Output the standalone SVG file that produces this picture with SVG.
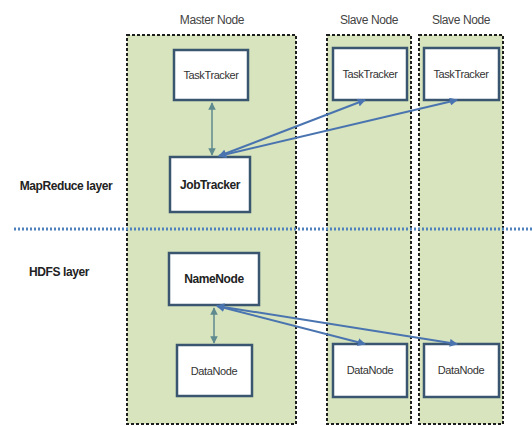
<svg xmlns="http://www.w3.org/2000/svg" width="532" height="426" viewBox="0 0 532 426">
<defs>
<style>
.col{fill:#d7e4bd;stroke:#1e1e1e;stroke-width:2;stroke-dasharray:3 2}
.box{fill:#ffffff;stroke:#3a5570;stroke-width:2.5}
.t{font-family:"Liberation Sans",Arial,sans-serif;font-size:11px;fill:#333;text-anchor:middle;letter-spacing:-0.4px}
.b{font-weight:bold;font-size:12px;fill:#222}
.hd{font-family:"Liberation Sans",Arial,sans-serif;font-size:12px;fill:#444;text-anchor:middle;letter-spacing:-0.4px}
.lay{font-family:"Liberation Sans",Arial,sans-serif;font-size:12px;font-weight:bold;fill:#222;text-anchor:middle;letter-spacing:-0.4px}
.v{stroke:#5f8a8f;stroke-width:1.5;fill:none;marker-start:url(#av);marker-end:url(#av)}
.e{stroke:#4a74b0;stroke-width:2;fill:none;marker-start:url(#ae);marker-end:url(#ae)}
</style>
<marker id="av" viewBox="0 0 10 10" refX="9" refY="5" markerWidth="5" markerHeight="5" orient="auto-start-reverse"><path d="M0,0 L10,5 L0,10 z" fill="#5f8a8f"/></marker>
<marker id="ae" viewBox="0 0 10 10" refX="9" refY="5" markerWidth="4" markerHeight="4" orient="auto-start-reverse"><path d="M0,0 L10,5 L0,10 z" fill="#4a74b0"/></marker>
</defs>
<rect width="532" height="426" fill="#ffffff"/>
<g id="master-col"><rect class="col" x="127" y="35" width="169" height="389"/><text class="hd" x="212" y="24">Master Node</text></g>
<g id="slave-col-1"><rect class="col" x="327" y="35" width="84" height="389"/><text class="hd" x="369" y="24">Slave Node</text></g>
<g id="slave-col-2"><rect class="col" x="419" y="35" width="84" height="389"/><text class="hd" x="461" y="24">Slave Node</text></g>
<g id="layer-line"><line x1="14" y1="229" x2="532" y2="229" stroke="#4f81bd" stroke-width="3" stroke-dasharray="2 2"/></g>
<g id="mapreduce-label"><text class="lay" x="66" y="190">MapReduce layer</text></g>
<g id="hdfs-label"><text class="lay" x="59" y="276">HDFS layer</text></g>
<g id="tasktracker-master"><rect class="box" x="174" y="50" width="74" height="50"/><text class="t" x="211" y="79">TaskTracker</text></g>
<g id="jobtracker"><rect class="box" x="170" y="157" width="80" height="55"/><text class="t b" x="210" y="189">JobTracker</text></g>
<g id="tasktracker-slave-1"><rect class="box" x="333" y="48" width="74" height="52"/><text class="t" x="370" y="78">TaskTracker</text></g>
<g id="tasktracker-slave-2"><rect class="box" x="424" y="48" width="75" height="52"/><text class="t" x="461" y="78">TaskTracker</text></g>
<g id="namenode"><rect class="box" x="169" y="253" width="90" height="52"/><text class="t b" x="214" y="283">NameNode</text></g>
<g id="datanode-master"><rect class="box" x="177" y="345" width="75" height="51"/><text class="t" x="214" y="375">DataNode</text></g>
<g id="datanode-slave-1"><rect class="box" x="333" y="344" width="74" height="53"/><text class="t" x="370" y="374">DataNode</text></g>
<g id="datanode-slave-2"><rect class="box" x="424" y="344" width="75" height="53"/><text class="t" x="461" y="374">DataNode</text></g>
<g id="connectors">
<line class="v" x1="212" y1="103" x2="212" y2="155"/>
<line class="e" x1="219" y1="156" x2="365" y2="100"/>
<line class="e" x1="219" y1="156" x2="457" y2="100"/>
<line class="v" x1="214" y1="308" x2="214" y2="343"/>
<line class="e" x1="217" y1="306" x2="365" y2="344"/>
<line class="e" x1="217" y1="306" x2="457" y2="344"/>
</g>
</svg>
